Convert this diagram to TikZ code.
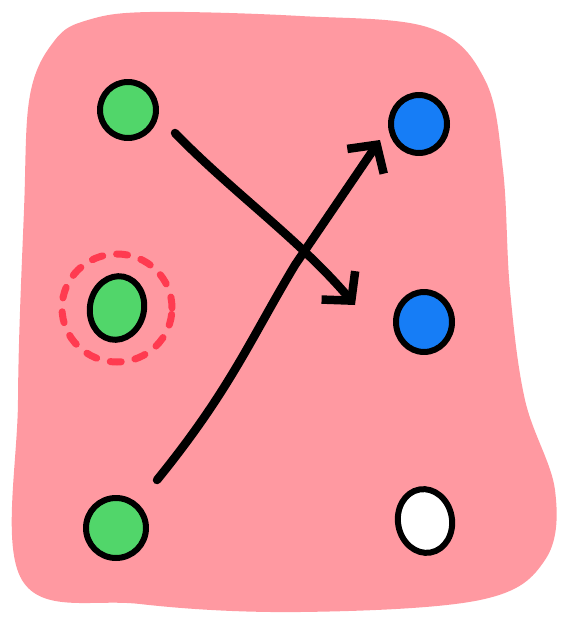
\documentclass[tikz,border=0pt]{standalone}
\usepackage{xcolor}
\usepackage{tikz}
\usetikzlibrary{shapes,arrows.meta,positioning}

\begin{document}
\begin{tikzpicture}[x=1pt,y=-1pt,line cap=round,line join=round]
    % Define colors
    \definecolor{blobcolor}{RGB}{255,153,161}
    \definecolor{greencolor}{RGB}{81,214,106}
    \definecolor{bluecolor}{RGB}{22,125,246}
    \definecolor{ringcolor}{RGB}{255,59,80}

    \tikzset{
        dot/.style={ellipse, draw=black, line width=6pt, inner sep=0pt},
        arrowline/.style={line width=8.5pt, -{Straight Barb[length=20pt,width=44pt,line width=8.5pt]}}
    }

    \useasboundingbox (0,0) rectangle (561,626);

    % Background blob
    \fill[blobcolor] plot[smooth cycle, tension=0.6] coordinates {
        (88,20) (150,12) (300,16) (430,28) (485,80) (503,170)
        (510,290) (525,400) (555,490) (545,560) (480,600)
        (300,612) (140,604) (22,580) (18,400) (24,210) (30,95) (55,40)};

    % Left column
    \node[dot, fill=greencolor, minimum width=56pt, minimum height=56pt] (g1) at (128,110) {};
    \node[dot, fill=greencolor, minimum width=54pt, minimum height=64pt, rotate=-12] (g2) at (117,308) {};
    \node[dot, fill=greencolor, minimum width=60pt, minimum height=60pt] (g3) at (116,528) {};

    % Right column
    \node[dot, fill=bluecolor, minimum width=56pt, minimum height=58pt] (b1) at (419,124) {};
    \node[dot, fill=bluecolor, minimum width=56pt, minimum height=60pt] (b2) at (424,322) {};
    \node[dot, fill=white, minimum width=54pt, minimum height=64pt, rotate=10] (w1) at (425,521) {};

    % Dashed ring around the middle dot
    \draw[ringcolor, line width=7pt, dash pattern=on 11pt off 14pt] (g2.center) ellipse (55pt and 54pt);

    % Arrow ends
    \coordinate (s1) at (175,133);
    \coordinate (e1) at (355,305);
    \coordinate (s2) at (157,480);
    \coordinate (e2) at (380,140);

    % Crossing arrows
    \draw[arrowline] (s1) .. controls (230,190) and (300,240) .. (e1);
    \draw[arrowline] (s2) .. controls (230,390) and (250,340) .. (295,265) -- (e2);
\end{tikzpicture}
\end{document}
